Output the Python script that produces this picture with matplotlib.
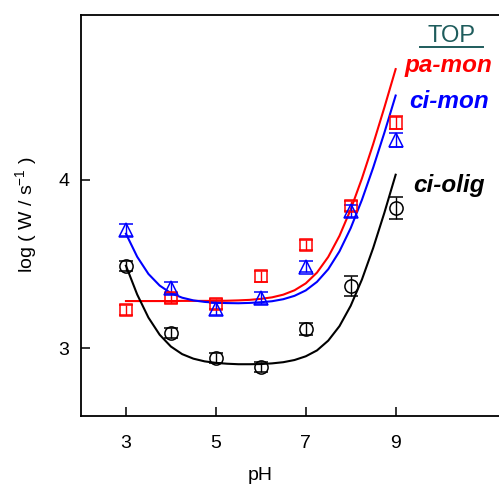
import matplotlib
matplotlib.use("Agg")
import matplotlib.pyplot as plt
from matplotlib.lines import Line2D

plt.rcParams['font.family'] = ['Liberation Sans', 'DejaVu Sans']
plt.rcParams['mathtext.default'] = 'regular'

# measured points
ph = [3, 4, 5, 6, 7, 8, 9]
pa_mon = [3.225, 3.298, 3.26, 3.426, 3.615, 3.843, 4.34]
pa_mon_err = [0.03, 0.03, 0.03, 0.03, 0.03, 0.03, 0.04]
ci_mon = [3.704, 3.357, 3.235, 3.298, 3.485, 3.813, 4.235]
ci_mon_err = [0.035, 0.035, 0.035, 0.035, 0.035, 0.035, 0.04]
ci_olig = [3.486, 3.089, 2.94, 2.89, 3.115, 3.371, 3.833]
ci_olig_err = [0.03, 0.03, 0.03, 0.03, 0.035, 0.06, 0.065]

# fitted curves
ph_fit = [3.00, 3.25, 3.50, 3.75, 4.00, 4.25, 4.50, 4.75, 5.00, 5.25, 5.50, 5.75,
          6.00, 6.25, 6.50, 6.75, 7.00, 7.25, 7.50, 7.75, 8.00, 8.25, 8.50, 8.75, 9.00]
pa_mon_fit = [3.280, 3.280, 3.280, 3.280, 3.280, 3.281, 3.281, 3.281, 3.281, 3.282, 3.284, 3.287,
              3.293, 3.302, 3.318, 3.344, 3.385, 3.449, 3.542, 3.667, 3.824, 4.008, 4.212, 4.430, 4.657]
ci_mon_fit = [3.680, 3.543, 3.441, 3.372, 3.327, 3.300, 3.284, 3.275, 3.270, 3.268, 3.267, 3.269,
              3.273, 3.279, 3.291, 3.311, 3.343, 3.394, 3.469, 3.575, 3.713, 3.881, 4.072, 4.280, 4.500]
ci_olig_fit = [3.490, 3.319, 3.182, 3.080, 3.010, 2.965, 2.938, 2.922, 2.913, 2.908, 2.905, 2.905,
               2.906, 2.910, 2.917, 2.930, 2.952, 2.987, 3.045, 3.131, 3.252, 3.408, 3.595, 3.805, 4.030]

x_ticks = [3, 5, 7, 9]
y_ticks = [3, 4]

W, H = 499, 488
fig = plt.figure(figsize=(W / 100, H / 100), dpi=100)
ax = fig.add_axes([81 / W, (H - 415.6) / H, 418 / W, (415.6 - 14.7) / H])
ax.set_xlim(2, 2 + 418 / 44.95)
ax.set_ylim(2.6, 4.98)

series = [
    (pa_mon, pa_mon_err, pa_mon_fit, '#ff0000', 's', 8.5),
    (ci_mon, ci_mon_err, ci_mon_fit, '#0000ff', '^', 10),
    (ci_olig, ci_olig_err, ci_olig_fit, '#000000', 'o', 9.5),
]
for y, e, yf, c, m, ms in series:
    ax.plot(ph_fit, yf, color=c, lw=1.5, zorder=2)
    ax.errorbar(ph, y, yerr=e, fmt=m, ms=ms, mfc='none', mec=c, mew=1.1,
                ecolor=c, elinewidth=1.0, capsize=4.8, capthick=1.1, zorder=3)

ax.set_xticks(x_ticks)
ax.set_yticks(y_ticks)
ax.tick_params(direction='in', length=6.5, width=1.1, labelsize=14)
ax.tick_params(axis='x', pad=14)
ax.tick_params(axis='y', pad=8.5)
for s in ['left', 'bottom', 'top']:
    ax.spines[s].set_linewidth(1.3)
ax.spines['right'].set_visible(False)

ax.set_xlabel('pH', fontsize=14, va='center')
ax.xaxis.set_label_coords((260 - 81) / 418, -(476 - 415.6) / 400.9)
ax.set_ylabel(r'log ( W / s$^{-1}$ )', fontsize=14, ha='center', va='center')
ax.yaxis.set_label_coords((26 - 81) / 418, (415.6 - 215) / 400.9)

def fx(px):
    return px / W

def fy(py):
    return 1 - py / H

teal = '#1e5c5c'
fig.text(fx(451.7), fy(41.7), 'TOP', color=teal, fontsize=17, ha='center', va='baseline')
fig.add_artist(Line2D([fx(420), fx(483)], [fy(46.5), fy(46.5)], color=teal, lw=1.4))
fig.text(fx(448), fy(71.7), 'pa-mon', color='#ff0000', fontsize=17.5, fontweight='bold',
         fontstyle='italic', ha='center', va='baseline')
fig.text(fx(449.5), fy(108.3), 'ci-mon', color='#0000ff', fontsize=17.5, fontweight='bold',
         fontstyle='italic', ha='center', va='baseline')
fig.text(fx(449), fy(191.7), 'ci-olig', color='#000000', fontsize=17.5, fontweight='bold',
         fontstyle='italic', ha='center', va='baseline')

fig.savefig('out.png', dpi=100)
